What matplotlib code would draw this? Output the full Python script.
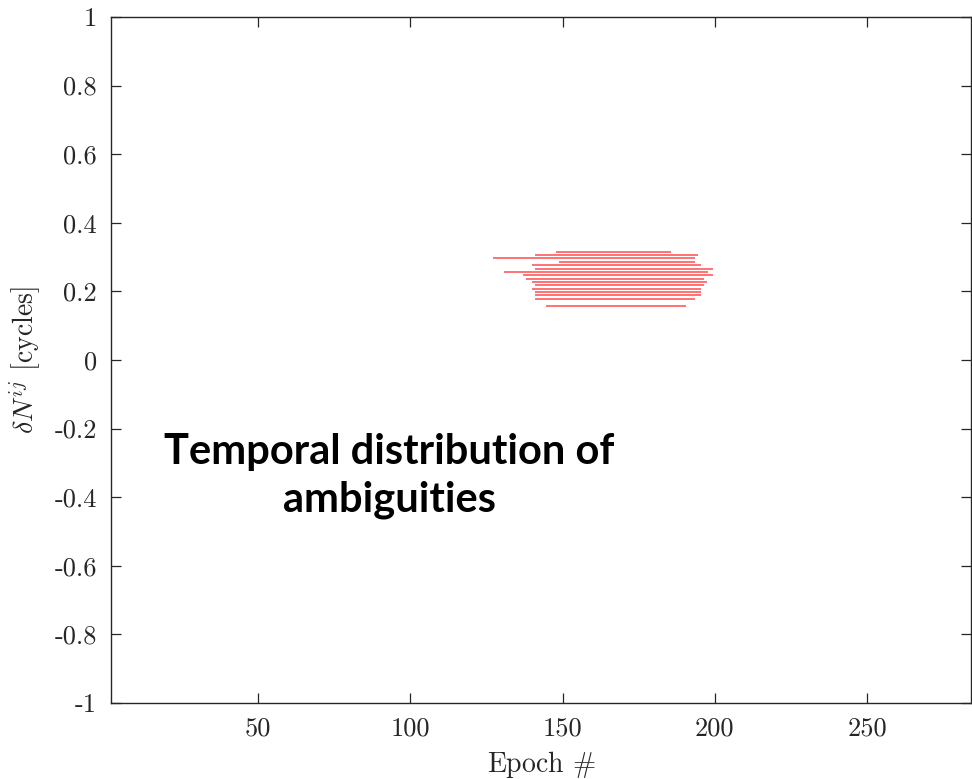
import matplotlib
matplotlib.use("Agg")
import matplotlib.pyplot as plt

# ambiguity segments: (level in cycles, first epoch, last epoch)
levels = [0.316, 0.306, 0.297, 0.287, 0.277, 0.266, 0.257, 0.247,
          0.237, 0.227, 0.218, 0.207, 0.197, 0.188, 0.177, 0.157]
epoch_start = [147.8, 140.9, 127.0, 148.8, 139.8, 140.9, 130.7, 136.9,
               138.0, 139.8, 140.9, 139.8, 140.9, 140.9, 140.9, 144.7]
epoch_end = [185.5, 194.5, 193.5, 193.5, 195.5, 199.5, 197.7, 199.5,
             196.5, 197.3, 196.5, 195.5, 195.5, 195.5, 193.5, 190.5]

xticks = [50, 100, 150, 200, 250]
yticks = [-1, -0.8, -0.6, -0.4, -0.2, 0, 0.2, 0.4, 0.6, 0.8, 1]
ytick_labels = ['-1', '-0.8', '-0.6', '-0.4', '-0.2', '0',
                '0.2', '0.4', '0.6', '0.8', '1']

plt.rcParams['font.family'] = 'cmr10'
plt.rcParams['mathtext.fontset'] = 'cm'

fig = plt.figure(figsize=(9.72, 7.79), dpi=100)
ax = fig.add_axes([0.1142, 0.0976, 0.885, 0.8806])

ax.hlines(levels, epoch_start, epoch_end, colors='#ff5a5a', linewidth=1.2)

ax.set_xlim(1.7, 284.2)
ax.set_ylim(-1, 1)
ax.set_xticks(xticks, [str(t) for t in xticks])
ax.set_yticks(yticks, ytick_labels)

spine_col = '#262626'
for s in ax.spines.values():
    s.set_color(spine_col)
    s.set_linewidth(1.0)
ax.tick_params(direction='in', length=7, width=0.9, color=spine_col,
               labelsize=19, labelcolor='#262626', top=True, right=True, pad=10)

ax.set_xlabel(r'Epoch $\#$', fontsize=20, color='#262626', labelpad=6)
ax.set_ylabel(r'$\delta N^{ij}$ [cycles]', fontsize=20, color='#262626', labelpad=8)

fig.text(389 / 972, 1 - 476 / 779, 'Temporal distribution of\nambiguities',
         ha='center', va='center', fontsize=30, fontweight='bold',
         family='Lato', linespacing=1.32, color='black')

fig.savefig('out.png', dpi=100)
